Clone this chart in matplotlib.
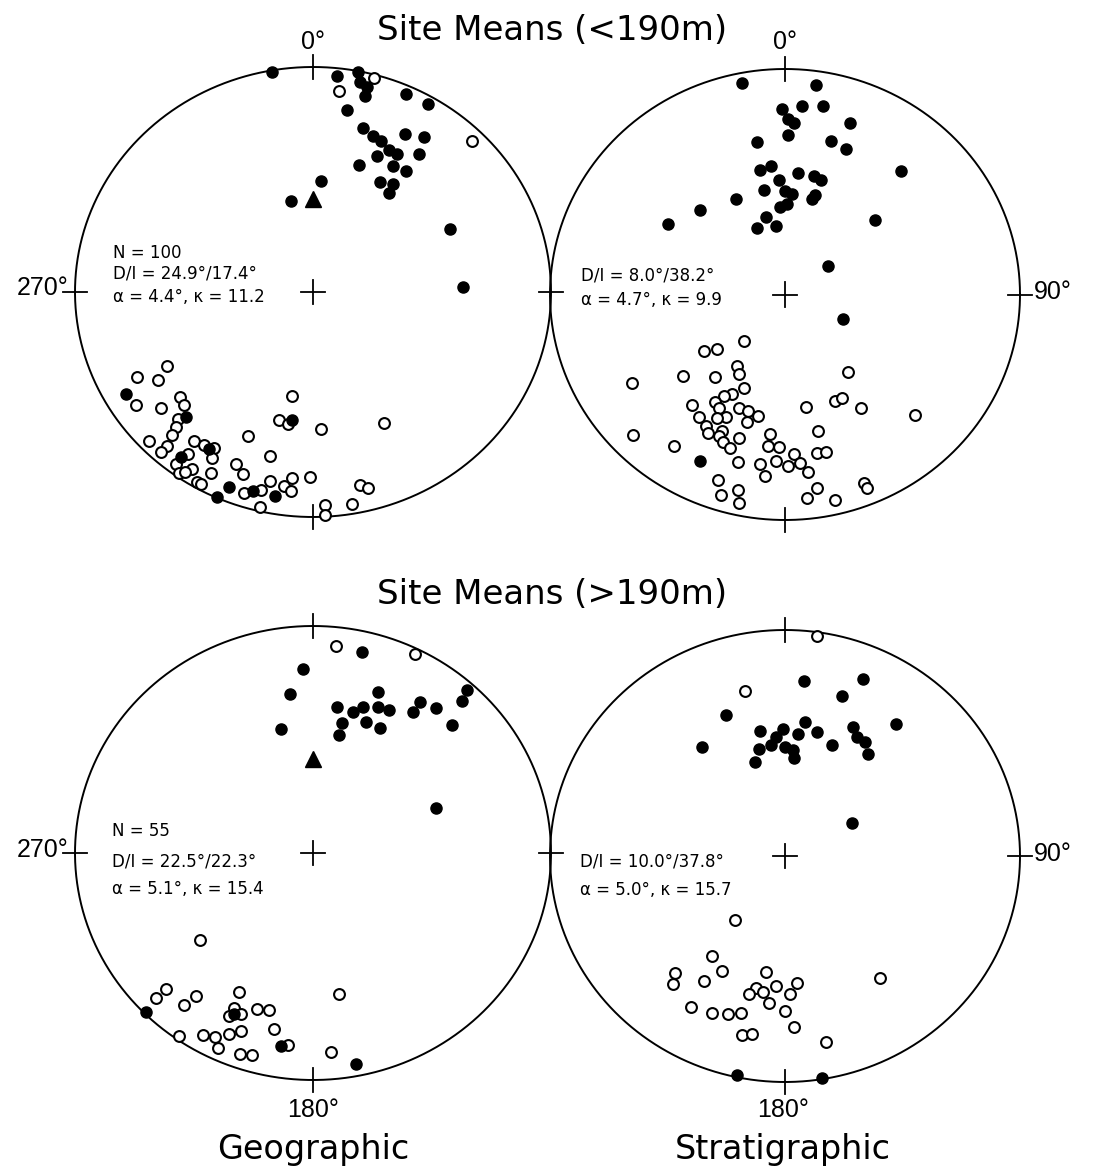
import numpy as np
import matplotlib
matplotlib.use("Agg")
import matplotlib.pyplot as plt

plt.rcParams['font.family'] = ['DejaVu Sans']

# ---------------- data (declination, inclination; inc<0 = upper hemisphere) -----
# Site means (<190m), geographic
tl_fill_dec = [350, 11, 12, 14, 14, 6, 10, 24, 30, 16, 20, 23, 27, 30, 24, 31, 36, 30, 35, 36,
               29, 34, 36, 19, 4, 347, 64, 88, 240, 224, 217, 212, 202, 196, 190, 189, 204]
tl_fill_inc = [1, 0.5, 5, 7, 11, 4, 19, 4, 4, 25, 27, 28, 30, 30, 34, 35, 34, 43, 41, 45,
               21, 18, 25, 40, 49, 56, 36, 37, 10, 24, 9, 19, 7, 9, 9, 42, 0.5]
tl_open_dec = [15, 7, 45, 243, 239, 242, 236, 231, 230, 227, 225, 224, 223, 222, 226, 222, 217,
               215, 216, 213, 214, 217, 214, 211, 210, 208, 210, 209, 203, 194, 203, 200, 198,
               194, 193, 192, 194, 190, 191, 186, 188, 186, 181, 177, 177, 177, 170, 167, 165, 153]
tl_open_inc = [-2, -11, -6, -18, -25, -31, -11, -19, -28, -27, -21, -18, -14, -9, -5, -5, -5,
               -2, -12, -7, -4, -18, -19, -20, -16, -10, -3, -3, -31, -26, -18, -15, -7,
               -10, -2, -15, -41, -40, -51, -18, -14, -12, -19, -39, -6, -1, -5, -13, -11, -35]

# Site means (<190m), stratigraphic
tr_fill_dec = [349, 8, 5, 11, 359, 1, 3, 1, 20, 350, 16, 22, 42, 354, 349, 6, 13, 17, 357, 349,
               0, 4, 16, 15, 334, 1, 357, 316, 302, 347, 338, 353, 49, 55, 114, 206]
tr_fill_inc = [5, 7, 17, 16, 19, 23, 25, 30, 20, 32, 30, 31, 27, 42, 43, 45, 45, 46, 48, 51,
               52, 53, 52, 54, 51, 57, 58, 47, 41, 61, 64, 65, 48, 72, 68, 19]
tr_open_dec = [220, 234, 230, 213, 209, 230, 219, 239, 203, 207, 210, 212, 219, 209, 201, 197,
               192, 214, 205, 208, 196, 210, 208, 204, 204, 202, 199, 197, 226, 215, 195, 199,
               197, 193, 192, 188, 186, 186, 186, 182, 183, 179, 177, 175, 173, 169, 166, 167,
               170, 171, 174, 167, 158, 158, 156, 152, 147, 142, 134]
tr_open_inc = [-68, -55, -59, -59, -57, -43, -51, -25, -53, -49, -47, -43, -37, -42, -45, -45,
               -44, -35, -40, -38, -41, -33, -31, -34, -32, -30, -29, -34, -11, -19, -24, -14,
               -8, -12, -6, -25, -20, -38, -33, -33, -27, -25, -30, -26, -22, -29, -29, -38,
               -48, -14, -10, -7, -11, -8, -47, -47, -40, -54, -24]

# Site means (>190m), geographic
bl_fill_dec = [13, 357, 352, 346, 21, 9, 15, 18, 23, 27, 21, 27, 12, 12, 34, 34, 39, 46, 42, 43,
               69, 225, 189, 169, 205]
bl_fill_inc = [10, 20, 30, 43, 25, 35, 36, 33, 31, 30, 38, 38, 41, 46, 21, 26, 19, 20, 4, 9,
               44, 1, 15, 6, 23]
bl_open_dec = [6, 26, 231, 226, 226, 218, 219, 207, 206, 206, 203, 199, 195, 201, 204, 207, 205,
               210, 215, 199, 196, 192, 187, 175, 170]
bl_open_inc = [-9, -3, -39, -15, -9, -21, -15, -32, -25, -21, -24, -28, -29, -17, -14, -10, -6,
               -8, -2, -7, -8, -22, -16, -13, -37]

# Site means (>190m), stratigraphic
br_fill_dec = [6, 23, 19, 338, 324, 349, 359, 356, 353, 347, 343, 0, 4, 5, 6, 8, 14, 22, 27, 30,
               34, 38, 39, 63, 192, 171]
br_fill_inc = [23, 16, 26, 33, 40, 43, 43, 46, 49, 50, 54, 50, 51, 54, 45, 40, 43, 46, 36, 39,
               39, 42, 26, 64, 1, 0.5]
br_open_dec = [8, 347, 217, 215, 208, 222, 220, 212, 211, 204, 199, 195, 189, 192, 194, 189, 186,
               184, 175, 178, 180, 177, 193, 190, 168, 143]
br_open_inc = [-2, -26, -61, -45, -42, -31, -27, -35, -23, -25, -27, -29, -47, -40, -37, -39, -35,
               -42, -43, -39, -32, -25, -20, -21, -17, -33]

# reference direction (triangle) on the geographic plots
ref_dec = 0
ref_inc = 56

stats_tl = ["N = 100", "D/I = 24.9°/17.4°", "α = 4.4°, κ = 11.2"]
stats_tr = ["D/I = 8.0°/38.2°", "α = 4.7°, κ = 9.9"]
stats_bl = ["N = 55", "D/I = 22.5°/22.3°", "α = 5.1°, κ = 15.4"]
stats_br = ["D/I = 10.0°/37.8°", "α = 5.0°, κ = 15.7"]

titles = ["Site Means (<190m)", "Site Means (>190m)"]
col_labels = ["Geographic", "Stratigraphic"]

# ---------------- figure ---------------------------------------------------------
W, H = 1094, 1172
fig = plt.figure(figsize=(W / 100, H / 100), dpi=100)


def project(dec, inc):
    dec = np.radians(np.asarray(dec, float))
    inc = np.asarray(inc, float)
    th = np.radians(90 - np.abs(inc))
    r = np.sqrt(2) * np.sin(th / 2)
    return r * np.sin(dec), r * np.cos(dec)


def net_axes(x0, y0, x1, y1, left_tick=True):
    ax = fig.add_axes([x0 / W, 1 - y1 / H, (x1 - x0) / W, (y1 - y0) / H])
    ax.set_xlim(-1, 1)
    ax.set_ylim(-1, 1)
    ax.set_aspect('auto')
    ax.axis('off')
    t = np.linspace(0, 2 * np.pi, 400)
    ax.plot(np.cos(t), np.sin(t), color='black', lw=1.4, clip_on=False)
    tx = 0.05
    ty = 0.055
    kw = dict(color='black', lw=1.3, clip_on=False)
    ax.plot([0, 0], [1 - ty, 1 + ty], **kw)
    ax.plot([0, 0], [-1 - ty, -1 + ty], **kw)
    if left_tick:
        ax.plot([-1 - tx, -1 + tx], [0, 0], **kw)
    ax.plot([1 - tx, 1 + tx], [0, 0], **kw)
    ax.plot([-tx, tx], [0, 0], **kw)
    ax.plot([0, 0], [-ty, ty], **kw)
    return ax


def draw(ax, fd, fi, od, oi, tri=False):
    x, y = project(od, oi)
    ax.plot(x, y, 'o', ms=7.8, mfc='white', mec='black', mew=1.5, ls='none', clip_on=False)
    x, y = project(fd, fi)
    ax.plot(x, y, 'o', ms=8.0, mfc='black', mec='black', ls='none', clip_on=False)
    if tri:
        x, y = project([ref_dec], [ref_inc])
        ax.plot(x, y, '^', ms=12, color='black', ls='none', clip_on=False)


ax_tl = net_axes(75, 67, 551, 517)
draw(ax_tl, tl_fill_dec, tl_fill_inc, tl_open_dec, tl_open_inc, tri=True)
ax_tr = net_axes(550, 69, 1020, 520, left_tick=False)
draw(ax_tr, tr_fill_dec, tr_fill_inc, tr_open_dec, tr_open_inc)
ax_bl = net_axes(75, 626, 551, 1080)
draw(ax_bl, bl_fill_dec, bl_fill_inc, bl_open_dec, bl_open_inc, tri=True)
ax_br = net_axes(550, 630, 1020, 1082, left_tick=False)
draw(ax_br, br_fill_dec, br_fill_inc, br_open_dec, br_open_inc)


def ftext(x, y, s, **kw):
    fig.text(x / W, 1 - y / H, s, **kw)


# titles
ftext(552, 30, titles[0], ha='center', va='center', fontsize=24.5)
ftext(552, 594, titles[1], ha='center', va='center', fontsize=24.5)

# direction labels
lab = dict(fontsize=18, family=['Liberation Sans', 'DejaVu Sans'])
ftext(313, 42, "0°", ha='center', va='center', **lab)
ftext(785, 42, "0°", ha='center', va='center', **lab)
ftext(68, 288, "270°", ha='right', va='center', **lab)
ftext(1034, 292, "90°", ha='left', va='center', **lab)
ftext(68, 850, "270°", ha='right', va='center', **lab)
ftext(1034, 854, "90°", ha='left', va='center', **lab)
ftext(313, 1110, "180°", ha='center', va='center', **lab)
ftext(783, 1110, "180°", ha='center', va='center', **lab)

# column labels
ftext(313, 1150, col_labels[0], ha='center', va='center', fontsize=24)
ftext(783, 1150, col_labels[1], ha='center', va='center', fontsize=24)

# statistics
for (x, ys, lines) in [(113, [253, 274, 297], stats_tl), (581, [275, 300], stats_tr),
                       (112, [831, 862, 889], stats_bl), (580, [862, 890], stats_br)]:
    for yy, s in zip(ys, lines):
        ftext(x, yy, s, ha='left', va='center', fontsize=12)

fig.savefig("out.png", dpi=100, facecolor='white')
